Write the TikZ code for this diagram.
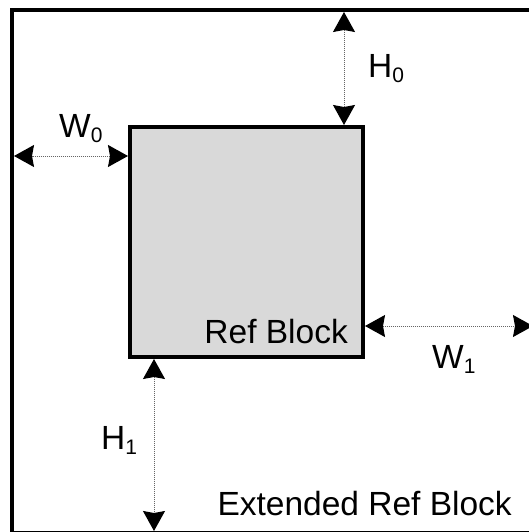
\documentclass[tikz,border=0pt]{standalone}
\usepackage{fontspec}
\setmainfont{Liberation Sans}
\usepackage{tikz}
\usetikzlibrary{arrows.meta,positioning}
\definecolor{refgray}{HTML}{D9D9D9}
\newcommand{\dimsub}[1]{\raisebox{-5pt}{\fontsize{21}{21}\selectfont #1}}

\begin{document}
\begin{tikzpicture}[x=1pt,y=-1pt,>={Stealth[length=20pt,width=22pt,inset=2pt,color=black]},blk/.style={draw=black,line width=4pt,rectangle},dimline/.style={<->,line width=1pt,draw=black!60,dash pattern=on 1pt off 1pt},lbl/.style={inner sep=0pt,font=\fontsize{33.5}{40}\selectfont}]
	\useasboundingbox (0,0) rectangle (529,532);
	\clip (0,0) rectangle (529,532);
	\node[blk,minimum width=523pt,minimum height=523pt,outer sep=-2pt]	(ext)	at (273.5,271.5)	{};
	\node[blk,fill=refgray,minimum width=233pt,minimum height=230pt]	(ref)	at (246.5,242)		{};
	
	\node[lbl,anchor=base east]		(reflbl)	at ([xshift=-17pt,yshift=16pt]ref.south east)	{Ref Block};
	\node[lbl,anchor=base east]		(extlbl)	at ([xshift=-21pt,yshift=16pt]ext.south east)	{Extended Ref Block};
	
	\node[lbl,anchor=base west]		(h0)		at (368,78)		{H\dimsub{0}};
	\node[lbl,anchor=base west]		(w0)		at (59,137)		{W\dimsub{0}};
	\node[lbl,anchor=base west]		(w1)		at (432,368)	{W\dimsub{1}};
	\node[lbl,anchor=base west]		(h1)		at (101,449)	{H\dimsub{1}};
	
	\draw[dimline]	([xshift=-21pt]ref.north east)	--	([xshift=-21pt]ref.north east |- ext.north);
	\draw[dimline]	([yshift=-31pt]ref.north west)	--	([yshift=-31pt]ref.north west -| ext.west);
	\draw[dimline]	([yshift=33pt]ref.south east)	--	([yshift=33pt]ref.south east -| ext.east);
	\draw[dimline]	([xshift=26pt]ref.south west)	--	([xshift=26pt]ref.south west |- ext.south);
\end{tikzpicture}
\end{document}
